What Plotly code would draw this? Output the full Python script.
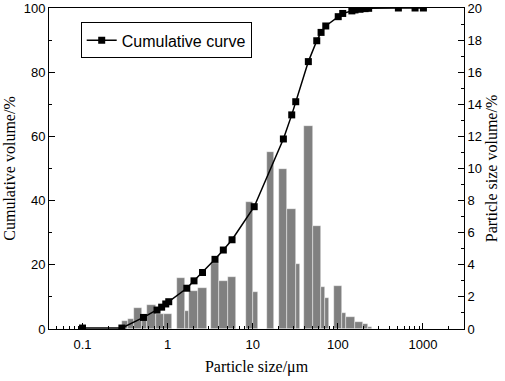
import numpy as np
import plotly.graph_objects as go

# ---- data ----
# Particle size distribution (bars): bin edges in micrometres and volume %
bin_lo_um = [0.289, 0.343, 0.406, 0.500, 0.577, 0.731, 0.908, 1.279, 1.600, 1.799,
             2.259, 3.206, 4.018, 5.082, 8.22, 10.16, 14.52, 20.37, 25.53, 31.99,
             40.09, 50.70, 62.95, 70.79, 90.99, 111.2, 124.7, 159.2, 196.3, 228.0]
bin_hi_um = [0.343, 0.406, 0.500, 0.577, 0.731, 0.908, 1.135, 1.600, 1.799, 2.259,
             2.877, 4.018, 5.082, 6.368, 10.16, 11.53, 17.95, 25.53, 31.99, 35.97,
             50.70, 62.95, 70.79, 79.43, 111.2, 124.7, 159.2, 196.3, 228.0, 250.0]
volume_pct = [0.52, 0.60, 1.29, 0.73, 1.52, 0.95, 0.95, 3.16, 1.14, 2.39,
              2.55, 4.13, 2.99, 3.26, 7.93, 2.32, 11.05, 9.95, 7.50, 4.05,
              12.65, 6.44, 2.64, 1.95, 2.70, 0.98, 0.77, 0.45, 0.31, 0.14]

# Cumulative curve
cum_size_um = [0.1, 0.29, 0.52, 0.75, 0.85, 0.95, 1.03, 1.68, 2.04, 2.57, 3.6, 4.51, 5.71,
               10.4, 22.9, 28.7, 32.0, 45.0, 56.5, 63.5, 72.1, 101, 114, 146, 159, 182,
               209, 230, 514, 807, 1012]
cum_pct = [0.3, 0.3, 3.6, 5.9, 6.8, 7.8, 8.5, 12.7, 15.0, 17.6, 21.7, 24.6, 27.8,
           38.1, 59.2, 66.7, 70.8, 83.3, 89.8, 92.4, 94.4, 97.3, 98.3, 99.1, 99.4, 99.6,
           99.8, 99.9, 100, 100, 100]

major_ticks = [0.1, 1, 10, 100, 1000]
major_labels = ["0.1", "1", "10", "100", "1000"]

# ---- figure ----
lo = np.log10(bin_lo_um)
hi = np.log10(bin_hi_um)
xrange_log = [-1.394, 3.482]

minor_vals = [m * 10.0 ** e for e in range(-2, 4) for m in range(2, 10)]
minor_vals = [v for v in minor_vals if 10 ** xrange_log[0] < v < 10 ** xrange_log[1]]

tick_font = dict(family="Liberation Sans, Arial, sans-serif", size=13, color="black")
title_font = dict(family="Liberation Serif, Times New Roman, serif", size=16, color="black")

fig = go.Figure()

fig.add_trace(go.Bar(
    x=(lo + hi) / 2, width=hi - lo, y=volume_pct,
    xaxis="x", yaxis="y",
    marker=dict(color="#808080", line=dict(color="rgba(255,255,255,0.7)", width=0.6)),
    showlegend=False,
))

fig.add_trace(go.Scatter(
    x=cum_size_um, y=cum_pct, xaxis="x2", yaxis="y2",
    mode="lines+markers", name="Cumulative curve",
    line=dict(color="black", width=1.5),
    marker=dict(symbol="square", size=7, color="black"),
))

fig.update_layout(
    width=505, height=381,
    margin=dict(l=49, r=41, t=8, b=52, pad=0, autoexpand=False),
    plot_bgcolor="white", paper_bgcolor="white",
    bargap=0,
    xaxis=dict(type="linear", range=xrange_log, visible=False, showgrid=False,
               automargin=False),
    xaxis2=dict(
        type="log", range=xrange_log, overlaying="x", side="bottom", anchor="y",
        tickmode="array", tickvals=major_ticks, ticktext=major_labels,
        ticks="inside", ticklen=6, tickwidth=1, tickcolor="black",
        showline=True, linecolor="black", linewidth=1, mirror=True,
        showgrid=False, zeroline=False, tickfont=tick_font, automargin=False,
        ticklabelstandoff=3,
        minor=dict(tickmode="array", tickvals=minor_vals, ticks="inside",
                   ticklen=3, tickcolor="black", showgrid=False),
        title=dict(text="Particle size/μm", font=title_font, standoff=10),
    ),
    yaxis=dict(
        range=[0, 20], side="right", dtick=2, tick0=0,
        ticks="inside", ticklen=6, tickwidth=1, tickcolor="black",
        showline=True, linecolor="black", linewidth=1, automargin=False,
        showgrid=False, zeroline=False, tickfont=tick_font,
        minor=dict(dtick=1, ticks="inside", ticklen=3, tickcolor="black", showgrid=False),
        title=dict(text="Particle size volume/%", font=title_font, standoff=4),
    ),
    yaxis2=dict(
        range=[0, 100], side="left", overlaying="y", anchor="x", dtick=20, tick0=0,
        ticks="inside", ticklen=6, tickwidth=1, tickcolor="black",
        showline=True, linecolor="black", linewidth=1, automargin=False,
        showgrid=False, zeroline=False, tickfont=tick_font,
        minor=dict(dtick=10, ticks="inside", ticklen=3, tickcolor="black", showgrid=False),
        title=dict(text="Cumulative volume/%", font=title_font, standoff=4),
    ),
    legend=dict(
        x=0.0764, y=0.955, xanchor="left", yanchor="top",
        bordercolor="black", borderwidth=1, bgcolor="white",
        font=dict(family="Liberation Sans, Arial, sans-serif", size=16, color="black"),
    ),
)

fig.write_html("out.html", config={"displayModeBar": False},
               post_script="document.body.style.margin='0';")
